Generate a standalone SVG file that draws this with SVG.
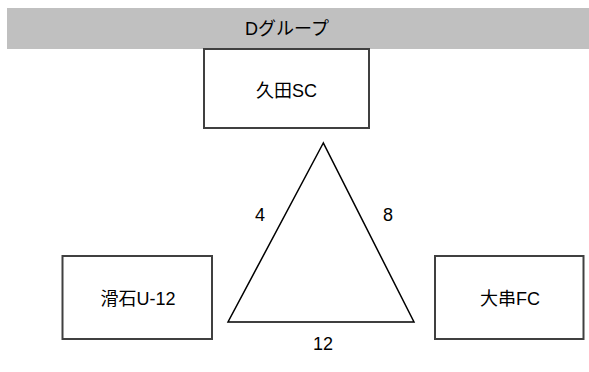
<svg xmlns="http://www.w3.org/2000/svg" width="589" height="372" viewBox="0 0 589 372">
<style>
.box{fill:#fff;stroke:#404040;stroke-width:2}
.t{font-family:"Liberation Sans","Noto Sans CJK JP",sans-serif;font-size:18px;fill:#000;text-anchor:middle}
.e{fill:none;stroke:#000;stroke-width:1.5;stroke-linejoin:miter}
</style>
<rect width="589" height="372" fill="#fff"/>
<g id="header">
<rect x="7" y="8" width="582" height="41" fill="#c0c0c0"/>
<text class="t" x="287" y="35">Dグループ</text>
</g>
<g id="n-hisada">
<rect class="box" x="204" y="49" width="165" height="79"/>
<text class="t" x="286.5" y="97">久田SC</text>
</g>
<g id="n-nameishi">
<rect class="box" x="62.5" y="256" width="149.5" height="83"/>
<text class="t" x="138" y="305">滑石U-12</text>
</g>
<g id="n-ogushi">
<rect class="box" x="435" y="256" width="148.5" height="83"/>
<text class="t" x="510" y="305">大串FC</text>
</g>
<g id="connectors">
<polygon class="e" points="323.3,143 228,322 414,322"/>
<text class="t" x="260" y="221">4</text>
<text class="t" x="388" y="221">8</text>
<text class="t" x="323" y="350">12</text>
</g>
</svg>
